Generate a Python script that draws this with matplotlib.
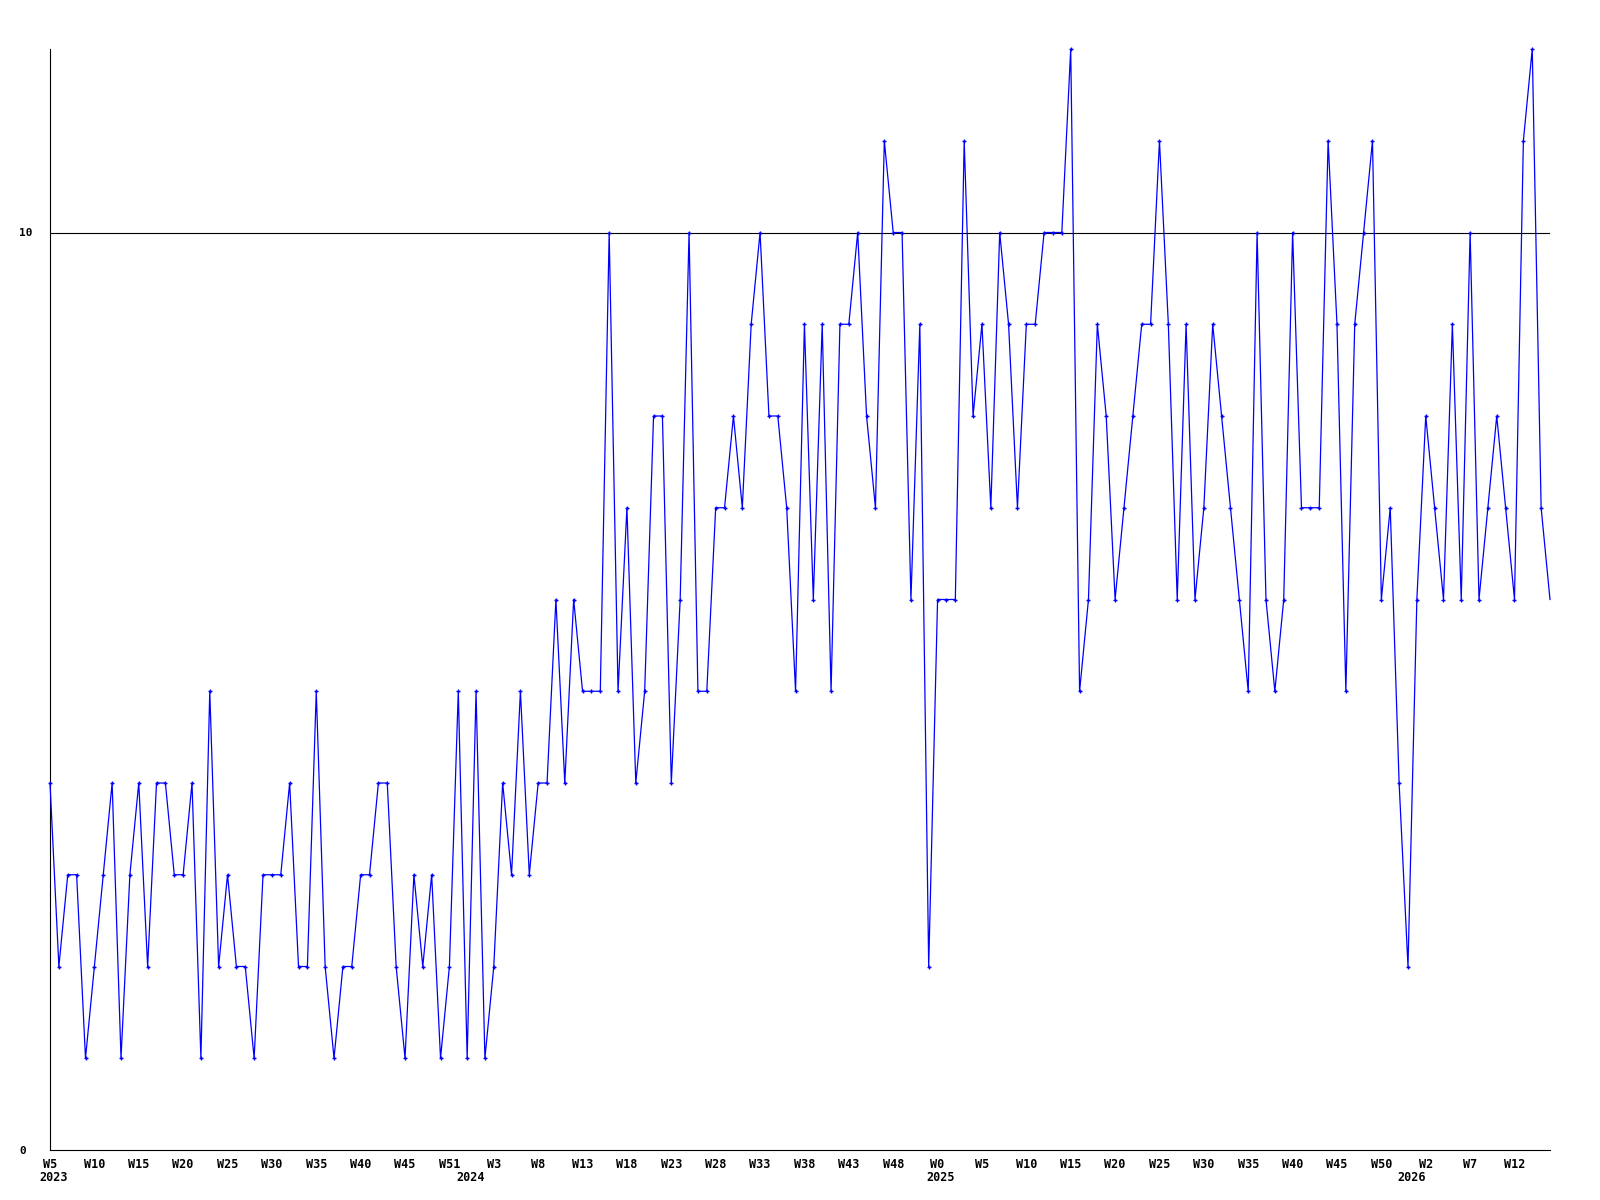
import numpy as np
import matplotlib
matplotlib.use('Agg')
import matplotlib.pyplot as plt

# weekly counts, starting 2023 W5
values = [4, 2, 3, 3, 1, 2, 3, 4, 1, 3, 4, 2, 4, 4, 3, 3, 4, 1, 5, 2,
          3, 2, 2, 1, 3, 3, 3, 4, 2, 2, 5, 2, 1, 2, 2, 3, 3, 4, 4, 2,
          1, 3, 2, 3, 1, 2, 5, 1, 5, 1, 2, 4, 3, 5, 3, 4, 4, 6, 4, 6,
          5, 5, 5, 10, 5, 7, 4, 5, 8, 8, 4, 6, 10, 5, 5, 7, 7, 8, 7, 9,
          10, 8, 8, 7, 5, 9, 6, 9, 5, 9, 9, 10, 8, 7, 11, 10, 10, 6, 9, 2,
          6, 6, 6, 11, 8, 9, 7, 10, 9, 7, 9, 9, 10, 10, 10, 12, 5, 6, 9, 8,
          6, 7, 8, 9, 9, 11, 9, 6, 9, 6, 7, 9, 8, 7, 6, 5, 10, 6, 5, 6,
          10, 7, 7, 7, 11, 9, 5, 9, 10, 11, 6, 7, 4, 2, 6, 8, 7, 6, 9, 6,
          10, 6, 7, 8, 7, 6, 11, 12, 7, 6]

week_labels = ['W5', 'W10', 'W15', 'W20', 'W25', 'W30', 'W35', 'W40', 'W45', 'W51',
               'W3', 'W8', 'W13', 'W18', 'W23', 'W28', 'W33', 'W38', 'W43', 'W48',
               'W0', 'W5', 'W10', 'W15', 'W20', 'W25', 'W30', 'W35', 'W40', 'W45',
               'W50', 'W2', 'W7', 'W12']
years = ['2023', '2024', '2025', '2026']
year_pos = [0.4, 47.4, 100.3, 153.4]

threshold = 10

x = np.arange(len(values))

plt.rcParams['font.family'] = 'DejaVu Sans Mono'
plt.rcParams['font.weight'] = 'bold'

fig = plt.figure(figsize=(16, 12), dpi=100)
ax = fig.add_axes([50 / 1600, 1 - 1150 / 1200, 1500 / 1600, 1101 / 1200])

ax.axhline(threshold, color='black', lw=0.8, zorder=1)
ax.plot(x, values, color='#0000FF', lw=0.9, marker='+', markersize=3.5, mew=1.0,
        markevery=list(range(len(values) - 1)), clip_on=False, zorder=3)

ax.set_xlim(0, len(values) - 1)
ax.set_ylim(0, 12)

for side in ['top', 'right']:
    ax.spines[side].set_visible(False)
for side in ['left', 'bottom']:
    ax.spines[side].set_linewidth(0.8)
    ax.spines[side].set_color('black')

ax.set_yticks([0, 10])
ax.set_yticklabels(['0', '10'], fontsize=8, fontweight='bold')
for lbl in ax.get_yticklabels():
    lbl.set_horizontalalignment('left')
ax.tick_params(axis='y', length=0, pad=22)

ax.set_xticks(np.arange(len(week_labels)) * 5)
ax.set_xticklabels(week_labels, fontsize=8.5, fontweight='bold')
ax.tick_params(axis='x', length=0, pad=5.5)

for yr, pos in zip(years, year_pos):
    ax.annotate(yr, (pos, 0), xycoords=('data', 'axes fraction'),
                xytext=(0, -19.5), textcoords='offset points',
                ha='center', va='center', fontsize=8.5, fontweight='bold',
                annotation_clip=False)

fig.savefig('out.png', dpi=100, facecolor='white')
